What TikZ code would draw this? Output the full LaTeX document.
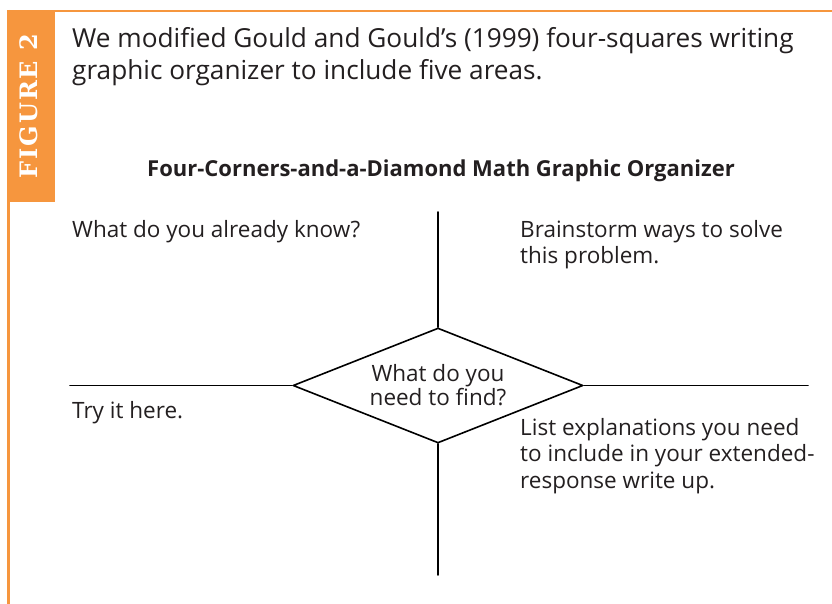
\documentclass[tikz,border=0pt]{standalone}
\usepackage{fontspec}
\setmainfont{Open Sans}
\newfontfamily\tabfont[LetterSpace=8]{DejaVu Serif}
\usetikzlibrary{shapes.geometric}
\definecolor{figorange}{HTML}{F6963E}
\definecolor{inkgray}{HTML}{231F20}
\tikzset{
  rule/.style={black, line width=1.6pt},
  areatext/.style={anchor=base west, inner sep=0pt, align=left, text=inkgray, font=\fontsize{22.5}{26.5}\selectfont},
}
\begin{document}
\begin{tikzpicture}[x=1pt, y=-1pt, line join=round, line cap=round]
  \useasboundingbox (0,0) rectangle (832,604);
  % orange frame and tab
  \fill[figorange] (7,10) rectangle (55,202);
  \draw[figorange, line width=2.5pt, line cap=butt] (7,11.25) -- (832,11.25);
  \draw[figorange, line width=2.5pt, line cap=butt] (8.25,10) -- (8.25,604);
  \node[rotate=90, text=white, inner sep=0pt, font=\tabfont\bfseries\fontsize{24}{24}\selectfont] (figlabel) at (28.5,106) {FIGURE 2};
  % caption (base = last line)
  \node[anchor=base west, inner sep=0pt, align=left, font=\fontsize{26.2}{32}\selectfont, text=inkgray] (caption) at (72,80)
    {We modified Gould and Gould's (1999) four-squares writing\\graphic organizer to include five areas.};
  \node[anchor=base, inner sep=0pt, text=inkgray, font=\bfseries\fontsize{22}{24}\selectfont] (heading) at (441,177)
    {Four-Corners-and-a-Diamond Math Graphic Organizer};
  % the four corners and the diamond
  \coordinate (topend) at (438,212); \coordinate (botend) at (438,575);
  \coordinate (leftend) at (70,385.5); \coordinate (rightend) at (808,385.5);
  \node[diamond, draw, rule, aspect=2.5, inner sep=0pt, minimum width=290pt, minimum height=115pt, align=center,
        text=inkgray, font=\fontsize{22.5}{24}\selectfont] (find) at (438,385.5) {What do you\\need to find?};
  \draw[rule] (find.north) -- (topend);
  \draw[rule] (find.south) -- (botend);
  \draw[rule] (find.west) -- (leftend);
  \draw[rule] (find.east) -- (rightend);
  \node[areatext] (know) at (72,237) {What do you already know?};
  \node[areatext] (solve) at (520,263.5) {Brainstorm ways to solve\\this problem.};
  \node[areatext] (try) at (72,418) {Try it here.};
  \node[areatext] (explain) at (520,488) {List explanations you need\\to include in your extended-\\response write up.};
\end{tikzpicture}
\end{document}
